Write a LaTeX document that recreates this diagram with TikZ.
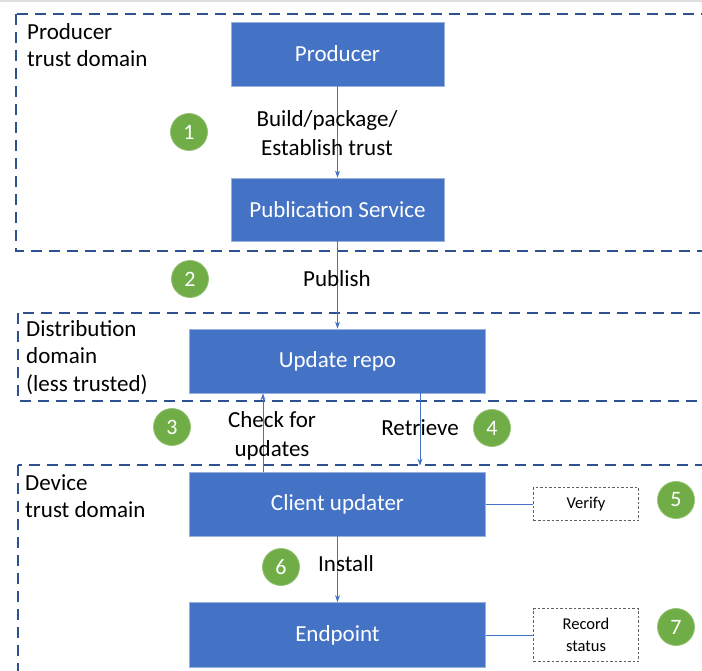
\documentclass[tikz,border=0pt]{standalone}
\usepackage{fontspec}
\setmainfont{Carlito}
\usetikzlibrary{arrows.meta}
\definecolor{boxblue}{HTML}{4472C4}
\definecolor{domainblue}{HTML}{2F528F}
\definecolor{stepgreen}{HTML}{70AD47}
\begin{document}
\begin{tikzpicture}[x=1pt,y=-1pt,
  block/.style={fill=boxblue, draw=boxblue!55!white, line width=0.8pt, inner sep=0pt,
    text=white, font=\fontsize{23}{27}\selectfont},
  trustzone/.style={draw=domainblue, line width=2.4pt, dash pattern=on 11pt off 7pt},
  zonelabel/.style={anchor=north west, align=left, inner sep=0pt,
    font=\fontsize{23}{27.5}\selectfont},
  flow/.style={draw=boxblue, line width=0.9pt, -{Stealth[length=7pt,width=5pt]}},
  link/.style={draw=boxblue, line width=0.9pt},
  note/.style={draw=gray!75!black, line width=0.8pt, dash pattern=on 2.5pt off 2pt,
    inner sep=0pt, align=center, font=\fontsize{16.5}{21.5}\selectfont},
  stepnum/.style={circle, fill=stepgreen, draw=stepgreen!75!white, line width=0.8pt,
    minimum size=37pt, inner sep=0pt, text=white, font=\fontsize{22}{26}\selectfont},
  caption/.style={align=center, inner sep=0pt, font=\fontsize{23}{29}\selectfont}]
\useasboundingbox (0,0) rectangle (702,671);
\fill[gray!25] (0,0) rectangle (702,2);

% trust domains (open to the right)
\begin{scope}
\clip (0,0) rectangle (702,671);
\draw[trustzone] (16,14) rectangle (730,251);
\draw[trustzone] (18,313) rectangle (730,401);
\draw[trustzone] (18,465) rectangle (730,700);
\end{scope}
\node[zonelabel] (lblprod) at (27,23) {Producer\\trust domain};
\node[zonelabel] (lbldist) at (26,320) {Distribution\\domain\\(less trusted)};
\node[zonelabel] (lbldev) at (25,474) {Device\\trust domain};

% components
\node[block, minimum width=213pt, minimum height=64pt] (producer) at (337.5,54) {Producer};
\node[block, minimum width=213pt, minimum height=63pt] (pubsvc) at (337.5,209.5) {Publication Service};
\node[block, minimum width=296pt, minimum height=64pt] (repo) at (337.5,361) {Update repo};
\node[block, minimum width=296pt, minimum height=64pt] (client) at (337.5,504) {Client updater};
\node[block, minimum width=296pt, minimum height=65pt] (endpoint) at (337.5,635) {Endpoint};

\node[note, minimum width=105pt, minimum height=33pt] (verify) at (586,504) {Verify};
\node[note, minimum width=105pt, minimum height=53pt] (record) at (586,635) {Record\\status};

% connectors
\coordinate (chkx) at (263,0);
\coordinate (retx) at (420,0);
\draw[flow] (producer) -- (pubsvc);
\draw[flow] (pubsvc) -- (repo);
\draw[flow] (chkx |- client.north) -- (chkx |- repo.south);
\draw[flow, shorten >=6pt] (retx |- repo.south) -- (retx |- client.north);
\draw[flow] (client) -- (endpoint);
\draw[link] (client.east) -- (verify.west);
\draw[link] (endpoint.east) -- (record.west);

% step labels
\node[caption] (txtbuild) at (327,133) {Build/package/\\Establish trust};
\node[caption] (txtpub) at (337,279) {Publish};
\node[caption] (txtcheck) at (272,436) {Check for\\updates};
\node[caption] (txtret) at (420,428) {Retrieve};
\node[caption] (txtinst) at (346,564) {Install};

% step numbers
\node[stepnum] (s1) at (189,132) {1};
\node[stepnum] (s2) at (190,279) {2};
\node[stepnum] (s3) at (172,427) {3};
\node[stepnum] (s4) at (492,428) {4};
\node[stepnum] (s5) at (676,500) {5};
\node[stepnum] (s6) at (281,567) {6};
\node[stepnum] (s7) at (676,627) {7};
\end{tikzpicture}
\end{document}
